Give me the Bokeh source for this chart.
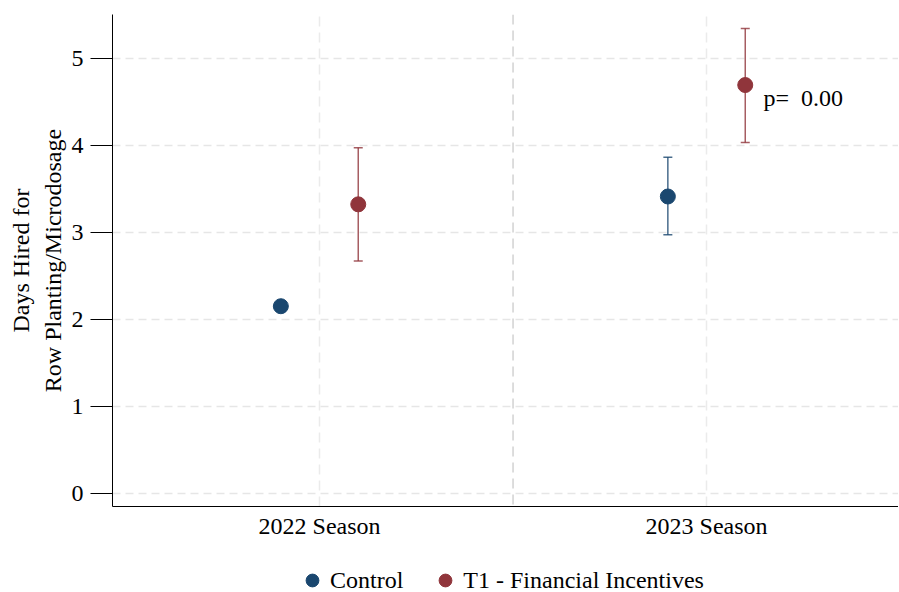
from bokeh.plotting import figure
from bokeh.layouts import column
from bokeh.models import (ColumnDataSource, Whisker, TeeHead, Span, Label,
                          Legend, LegendItem, FixedTicker)
from bokeh.embed import file_html
from bokeh.resources import INLINE

# ---- data ----
seasons = ["2022 Season", "2023 Season"]
season_pos = [1, 2]
divider_pos = 1.5
groups = ["Control", "T1 - Financial Incentives"]
control_mean = [2.15, 3.41]
control_lo = [None, 2.97]
control_hi = [None, 3.86]
t1_mean = [3.32, 4.69]
t1_lo = [2.67, 4.03]
t1_hi = [3.97, 5.34]
offset = 0.1
p_text = "p=\u00a0 0.00"
p_pos = (2.147, 4.54)
y_ticks = [0, 1, 2, 3, 4, 5]

NAVY = "#1a476f"
MAROON = "#90353b"
FONT = "Liberation Serif"

p = figure(frame_width=786, frame_height=492, output_backend="svg", toolbar_location=None,
           x_range=(0.465, 2.496), y_range=(-0.15, 5.5),
           min_border_left=112, min_border_right=0, min_border_top=14,
           min_border_bottom=58)
p.outline_line_color = None
p.background_fill_color = "white"

# grids
p.ygrid.ticker = FixedTicker(ticks=y_ticks)
p.ygrid.grid_line_color = "#e6e6e6"
p.ygrid.grid_line_dash = "8 5"
p.ygrid.grid_line_width = 1.5
p.xgrid.ticker = FixedTicker(ticks=season_pos)
p.xgrid.grid_line_color = "#ebebeb"
p.xgrid.grid_line_dash = "10 6"
p.xgrid.grid_line_width = 1.5
p.add_layout(Span(location=divider_pos, dimension="height", line_color="#d2d2d2",
                  line_dash="10 6", line_width=1.5, level="underlay"))

# axes
p.yaxis.ticker = FixedTicker(ticks=y_ticks)
p.yaxis.axis_label = "Days Hired for\nRow Planting/Microdosage"
p.yaxis.axis_label_text_font = FONT
p.yaxis.axis_label_text_font_style = "normal"
p.yaxis.axis_label_text_font_size = "24px"
p.yaxis.axis_label_text_color = "black"
p.yaxis.axis_label_standoff = 3
p.yaxis.major_label_text_font = FONT
p.yaxis.major_label_text_font_size = "24px"
p.yaxis.major_label_text_color = "black"
p.yaxis.major_label_orientation = "horizontal"
p.yaxis.major_tick_out = 22
p.yaxis.major_tick_in = 0
p.yaxis.minor_tick_out = 0
p.yaxis.minor_tick_in = 0
p.yaxis.major_label_standoff = 7
p.yaxis.axis_line_color = "black"
p.yaxis.major_tick_line_color = "black"

p.xaxis.ticker = FixedTicker(ticks=season_pos)
p.xaxis.major_label_overrides = dict(zip(season_pos, seasons))
p.xaxis.major_label_text_font = FONT
p.xaxis.major_label_text_font_size = "24px"
p.xaxis.major_label_text_color = "black"
p.xaxis.major_tick_out = 0
p.xaxis.major_tick_in = 0
p.xaxis.minor_tick_out = 0
p.xaxis.minor_tick_in = 0
p.xaxis.major_label_standoff = 6
p.xaxis.axis_line_color = "black"

# error bars
def ci_source(pos, lo, hi, off):
    xs, los, his = [], [], []
    for x0, l, h in zip(pos, lo, hi):
        if l is not None and h is not None:
            xs.append(x0 + off)
            los.append(l)
            his.append(h)
    return ColumnDataSource(dict(x=xs, lo=los, hi=his))

for pos_off, lo, hi, col in [(-offset, control_lo, control_hi, NAVY),
                             (offset, t1_lo, t1_hi, MAROON)]:
    src = ci_source(season_pos, lo, hi, pos_off)
    w = Whisker(base="x", lower="lo", upper="hi", source=src,
                line_color=col, line_width=1.5, line_alpha=0.8, level="underlay",
                upper_head=TeeHead(size=9, line_color=col, line_width=1.5, line_alpha=0.8),
                lower_head=TeeHead(size=9, line_color=col, line_width=1.5, line_alpha=0.8))
    p.add_layout(w)

# points
c_src = ColumnDataSource(dict(x=[s - offset for s in season_pos], y=control_mean))
t_src = ColumnDataSource(dict(x=[s + offset for s in season_pos], y=t1_mean))
p.scatter("x", "y", source=c_src, size=15, fill_color=NAVY, line_color=NAVY)
p.scatter("x", "y", source=t_src, size=15, fill_color=MAROON, line_color=MAROON)

p.add_layout(Label(x=p_pos[0], y=p_pos[1], text=p_text, text_font=FONT,
                   text_font_size="24px", text_baseline="middle", text_color="black"))

# ---- legend strip below the plot (same sources, ranges keep points out of view) ----
lg = figure(width=898, height=32, output_backend="svg", toolbar_location=None,
            x_axis_location=None, y_axis_location=None,
            min_border_left=0, min_border_right=0, min_border_top=0, min_border_bottom=0,
            x_range=(100, 101), y_range=(100, 101))
lg.outline_line_color = None
lg.xgrid.visible = False
lg.ygrid.visible = False
k_c = lg.scatter("x", "y", source=c_src, size=14, fill_color=NAVY, line_color=NAVY)
k_t = lg.scatter("x", "y", source=t_src, size=14, fill_color=MAROON, line_color=MAROON)
legend = Legend(items=[LegendItem(label=groups[0], renderers=[k_c]),
                       LegendItem(label=groups[1], renderers=[k_t])],
                orientation="horizontal", location=(184, 0))
legend.label_text_font = FONT
legend.label_text_font_size = "24px"
legend.label_text_color = "black"
legend.border_line_color = None
legend.background_fill_alpha = 0
legend.glyph_width = 32
legend.glyph_height = 32
legend.label_standoff = 2
legend.spacing = 26
legend.margin = 0
legend.padding = 0
lg.add_layout(legend, "center")

layout = column(p, lg, spacing=0)
open("out.html", "w").write(file_html(layout, INLINE))
